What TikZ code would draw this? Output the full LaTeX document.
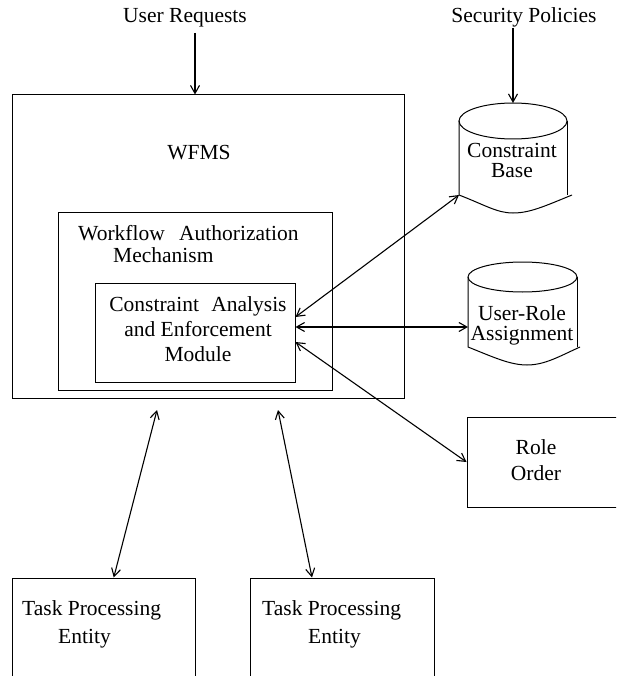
\documentclass[tikz,border=0pt]{standalone}
\usepackage{fontspec}
\setmainfont{Liberation Serif}
\usetikzlibrary{arrows.meta,fit}
\begin{document}
\begin{tikzpicture}[x=1pt,y=-1pt,
  box/.style={draw, line width=1pt, inner sep=0pt},
  lbl/.style={inner sep=0pt, font=\fontsize{21.5}{#1}\selectfont},
  lbl/.default=25,
  biarrow/.style={line width=1.1pt, {Straight Barb[length=8pt,width=9pt]}-{Straight Barb[length=8pt,width=9pt]}},
  onearrow/.style={line width=1.1pt, -{Straight Barb[length=8pt,width=9pt]}},
  store/.style={line width=1pt}]

\useasboundingbox (0,0) rectangle (616,676);
\clip (0,0) rectangle (616,676);

% nested system boxes
\node[box, fit={(12.5,95) (404.5,398)}] (wfms) {};
\node[box, fit={(58,212) (332,390)}] (wam) {};
\node[box, fit={(95,283) (295,382)}] (caem) {};

% multi-line labels are anchored on the baseline of their last line
\node[lbl, anchor=base] (wfmslbl) at (199,160) {WFMS};
\node[lbl=22, anchor=base west, align=left] (wamlbl) at (78,262)
  {Workflow\hspace{9pt} Authorization\\\hspace*{35pt}Mechanism};
\node[lbl=25, anchor=base, align=center] (caemlbl) at (198,361)
  {Constraint\hspace{7pt} Analysis\\and Enforcement\\Module};

% external inputs
\node[lbl, anchor=base] (ureq) at (185,23) {User Requests};
\node[lbl, anchor=base] (sec) at (524,23) {Security Policies};

% constraint base store
\draw[store] (513,121) ellipse [x radius=54pt, y radius=18pt];
\draw[store] (459,121) -- (459,195)
  .. controls (485,205) and (497,213) .. (513,213)
  .. controls (530,213) and (545,206) .. (572,195);
\draw[store] (567,121) -- (567,195);
\coordinate (cbtop) at (513,103);
\coordinate (cbcorner) at (459,195);
\node[lbl=20, anchor=base, align=center] (cbase) at (512,178) {Constraint\\Base};

% user-role assignment store
\draw[store] (522.5,277) ellipse [x radius=54.5pt, y radius=15pt];
\draw[store] (468,277) -- (468,347)
  .. controls (493,357) and (510,365) .. (527,365)
  .. controls (545,365) and (560,356) .. (580,347);
\draw[store] (577,277) -- (577,347);
\coordinate (uraleft) at (468,327);
\node[lbl=20, anchor=base, align=center] (ura) at (522,340) {User-Role\\Assignment};

% role order
\node[box, fit={(467,417) (630,507)}] (role) {};
\node[lbl=26, anchor=base, align=center] (rolelbl) at (536,480) {Role\\Order};

% task processing entities
\node[box, fit={(12.5,578) (195,700)}] (tpe1) {};
\node[box, fit={(250,578) (434,700)}] (tpe2) {};
\node[lbl=28, anchor=base west, align=left] (tpe1lbl) at (22,643)
  {Task Processing\\\hspace*{36pt}Entity};
\node[lbl=28, anchor=base west, align=left] (tpe2lbl) at (262,643)
  {Task Processing\\\hspace*{46pt}Entity};

% connectors
\coordinate (urfrom) at (195,33);
\draw[onearrow] (urfrom) -- (urfrom |- wfms.north);
\coordinate (secfrom) at (513,28);
\draw[onearrow] (secfrom) -- (cbtop);

\draw[biarrow] ([yshift=15.5pt]caem.east) -- (cbcorner);
\draw[biarrow] ([yshift=5.5pt]caem.east) -- (uraleft);
\draw[biarrow] ([yshift=-9.5pt]caem.east) -- (role.west);

\coordinate (t1top) at (157,410);
\coordinate (t2top) at (278,410);
\draw[biarrow] (t1top) -- ([xshift=10pt]tpe1.north);
\draw[biarrow] (t2top) -- ([xshift=-30pt]tpe2.north);
\end{tikzpicture}
\end{document}
